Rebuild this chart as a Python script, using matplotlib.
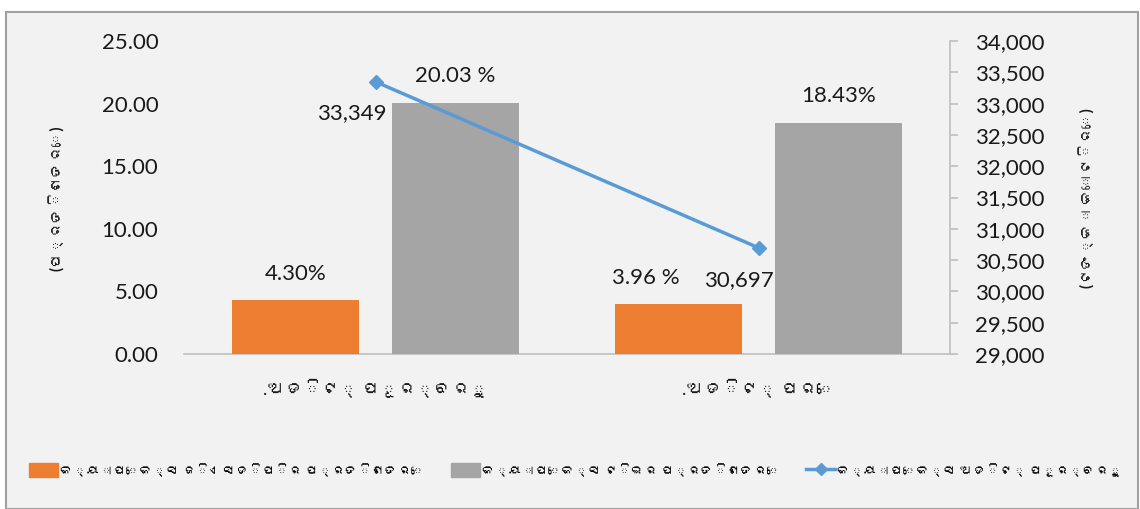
import matplotlib
matplotlib.use("Agg")
import matplotlib.pyplot as plt
from matplotlib import font_manager
from matplotlib.ft2font import FT2Font
from matplotlib.patches import Rectangle
from matplotlib.lines import Line2D

# ---- data ----
categories = [".ଅଡିଟ୍ ପୂର୍ବରୁ", ".ଅଡିଟ୍ ପରେ"]
gdp_pct = [4.30, 3.96]
te_pct = [20.03, 18.43]
capex_crore = [33349, 30697]
gdp_labels = ["4.30%", "3.96 %"]
te_labels = ["20.03 %", "18.43%"]
capex_labels = ["33,349", "30,697"]
left_ticks = [0, 5, 10, 15, 20, 25]
right_ticks = list(range(29000, 34001, 500))
series_names = ["କ୍ୟାପେକ୍ସ ଜିଏସଡିପିର ପ୍ରତିଶତରେ", "କ୍ୟାପେକ୍ସ ଟିଇର ପ୍ରତିଶତରେ", "କ୍ୟାପେକ୍ସ ଅଡିଟ୍ ପୂର୍ବରୁ"]
left_label = "(ପ୍ରତିଶତରେ)"
right_label = "(ଟଙ୍କା କୋଟିରେ)"

# ---- find font with Odia support, if any ----
odia_fams = []
for path in font_manager.findSystemFonts():
    try:
        f = FT2Font(path)
        if 0x0B05 in f.get_charmap():
            name = font_manager.FontProperties(fname=path).get_name()
            if name not in odia_fams:
                odia_fams.append(name)
    except Exception:
        pass
base = "Lato"
fams = [base] + odia_fams + ["DejaVu Sans"]
plt.rcParams['font.family'] = fams

ORANGE = "#ED7D31"
GRAY = "#A5A5A5"
BLUE = "#5B9BD5"
BG = "#F2F2F2"
TXT = "#1a1a1a"

W, H = 1140, 509
fig = plt.figure(figsize=(W / 100, H / 100), dpi=100)
fig.patch.set_facecolor("white")
fig.add_artist(Rectangle((6 / W, 0), (1138 - 6) / W, (H - 12) / H, transform=fig.transFigure,
                         facecolor=BG, edgecolor="#A0A0A0", linewidth=1.5, zorder=0))

ax = fig.add_axes([184 / W, (H - 354) / H, 766 / W, 313 / H])
ax.set_facecolor("none")
ax.set_xlim(-0.5, 1.5)
ax.set_ylim(0, 25)

off = 0.209
bw = 0.332
xs = [0, 1]
ax.bar([x - off for x in xs], gdp_pct, width=bw, color=ORANGE, zorder=3)
ax.bar([x + off for x in xs], te_pct, width=bw, color=GRAY, zorder=3)

FS = 16
ax.set_yticks(left_ticks)
ax.set_yticklabels([f"{v:.2f}" for v in left_ticks], fontsize=FS, color=TXT)
ax.set_xticks(xs)
ax.set_xticklabels(categories, fontsize=13, color=TXT)
ax.tick_params(axis='y', length=0, pad=18.5)
ax.tick_params(axis='x', length=0, pad=18)
for s in ["top", "right", "left"]:
    ax.spines[s].set_visible(False)
ax.spines["bottom"].set_color("#BFBFBF")
ax.spines["bottom"].set_linewidth(1.2)

ax2 = ax.twinx()
ax2.set_ylim(29000, 34000)
ax2.set_yticks(right_ticks)
ax2.set_yticklabels([f"{v:,}" for v in right_ticks], fontsize=FS, color=TXT)
ax2.tick_params(axis='y', length=6, color="#BFBFBF", width=1.2, pad=12)
for s in ["top", "left", "bottom"]:
    ax2.spines[s].set_visible(False)
ax2.spines["right"].set_color("#BFBFBF")
ax2.spines["right"].set_linewidth(1.2)
ax2.plot(xs, capex_crore, color=BLUE, linewidth=2.5, marker="D", markersize=7, zorder=4)

# data labels
for i, x in enumerate(xs):
    dx = 0 if i == 0 else -33
    ax.annotate(gdp_labels[i], (x - off, gdp_pct[i]), xytext=(dx, 26), textcoords="offset pixels",
                ha="center", va="center", fontsize=FS, color=TXT)
    ax.annotate(te_labels[i], (x + off, te_pct[i]), xytext=(0, 27), textcoords="offset pixels",
                ha="center", va="center", fontsize=FS, color=TXT)
capex_off = [(-24, -31), (-20, -32)]
for i, x in enumerate(xs):
    ax2.annotate(capex_labels[i], (x, capex_crore[i]), xytext=capex_off[i], textcoords="offset pixels",
                 ha="center", va="center", fontsize=FS, color=TXT)

fig.text(57 / W, 1 - 198 / H, left_label, rotation=90, ha="center", va="center",
         fontsize=11, fontweight="bold", color=TXT)
fig.text(1087 / W, 1 - 198 / H, right_label, rotation=90, ha="center", va="center",
         fontsize=11, fontweight="bold", color=TXT)

handles = [Rectangle((0, 0), 1, 1, color=ORANGE), Rectangle((0, 0), 1, 1, color=GRAY),
           Line2D([0], [0], color=BLUE, linewidth=2.5, marker="D", markersize=6)]
fig.legend(handles, series_names, loc="center", bbox_to_anchor=(0.505, 1 - 470 / H), ncol=3,
           frameon=False, fontsize=9.5, handlelength=2.2, handleheight=1.2, columnspacing=2.0,
           handletextpad=0.15)

fig.savefig("out.png", dpi=100, facecolor=fig.get_facecolor())
